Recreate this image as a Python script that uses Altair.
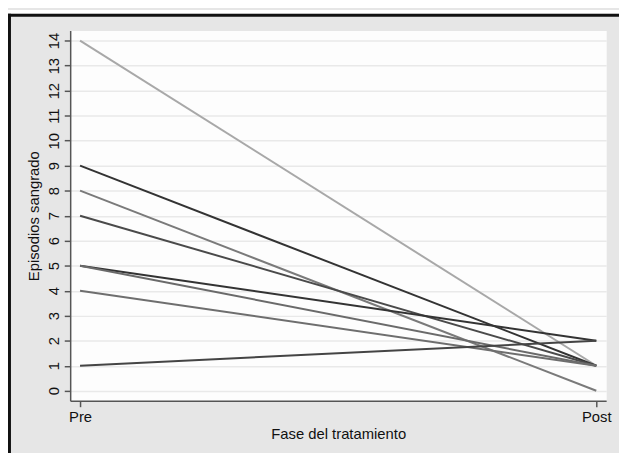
import altair as alt
import pandas as pd

# Data: episodes of bleeding before and after treatment, per patient
pacientes = ["P1", "P2", "P3", "P4", "P5", "P6", "P7", "P8"]
pre_vals = [14, 9, 8, 7, 5, 5, 4, 1]
post_vals = [1, 1, 0, 1, 2, 1, 1, 2]
colores = ["#a8a8a8", "#333333", "#7a7a7a", "#4a4a4a", "#333333", "#6a6a6a", "#6e6e6e", "#444444"]
fases = ["Pre", "Post"]
y_ticks = list(range(0, 15))

rows = []
for p, a, b in zip(pacientes, pre_vals, post_vals):
    rows.append({"paciente": p, "fase": 0, "episodios": a})
    rows.append({"paciente": p, "fase": 1, "episodios": b})
df = pd.DataFrame(rows)

PW, PH = 543, 375
FONT = "Liberation Sans"

lines = alt.Chart(df).mark_line(strokeWidth=2).encode(
    x=alt.X(
        "fase:Q",
        scale=alt.Scale(domain=[-0.0191, 1.0191], nice=False, zero=False),
        axis=alt.Axis(
            values=[0, 1],
            labelExpr="datum.value == 0 ? 'Pre' : 'Post'",
            title="Fase del tratamiento",
            grid=False,
            labelFlush=False,
            labelFontSize=15,
            labelPadding=3,
            titleFontSize=15,
            titleFontWeight="normal",
            titleY=33,
            titleBaseline="middle",
        ),
    ),
    y=alt.Y(
        "episodios:Q",
        scale=alt.Scale(domain=[-0.4, 14.4], nice=False, zero=False),
        axis=alt.Axis(
            values=y_ticks,
            title="Episodios sangrado",
            grid=True,
            labelAngle=270,
            labelAlign="center",
            labelBaseline="bottom",
            labelFontSize=15,
            labelPadding=3,
            titleFontSize=15,
            titleFontWeight="normal",
            titleX=-37,
            titleY=PH / 2,
            titleAngle=270,
            titleAlign="center",
            titleBaseline="middle",
        ),
    ),
    color=alt.Color(
        "paciente:N",
        scale=alt.Scale(domain=pacientes, range=colores),
        legend=None,
    ),
    detail="paciente:N",
)

one = alt.Data(values=[{"k": 1}])

# white strip above the outer frame
cover = alt.Chart(one).mark_rect(color="white", clip=False).encode(
    x=alt.value(-70), x2=alt.value(PW + 20), y=alt.value(-21), y2=alt.value(-17)
)
# outer black frame (left and top edges)
frame_left = alt.Chart(one).mark_rule(color="#111111", strokeWidth=3, clip=False).encode(
    x=alt.value(-61.5), y=alt.value(-17), y2=alt.value(PH + 80)
)
frame_top = alt.Chart(one).mark_rule(color="#111111", strokeWidth=3, clip=False).encode(
    x=alt.value(-63), x2=alt.value(PW + 20), y=alt.value(-15.5)
)

chart = alt.layer(cover, frame_left, frame_top, lines).properties(
    width=PW,
    height=PH,
    autosize=alt.AutoSizeParams(type="none"),
    padding={"left": 63, "top": 20, "right": 13, "bottom": 50},
    background="#e6e6e6",
).configure_view(
    fill="#fdfdfd", stroke="transparent"
).configure_axis(
    labelFont=FONT,
    titleFont=FONT,
    labelColor="#111111",
    titleColor="#111111",
    domainColor="#555555",
    domainWidth=1.5,
    tickColor="#555555",
    tickWidth=1.5,
    tickSize=6,
    gridColor="#e9e9e9",
    gridWidth=1.5,
    labelOverlap=False,
    labelBound=False,
)

chart.save("out.html", embed_options={"renderer": "svg", "actions": False})
